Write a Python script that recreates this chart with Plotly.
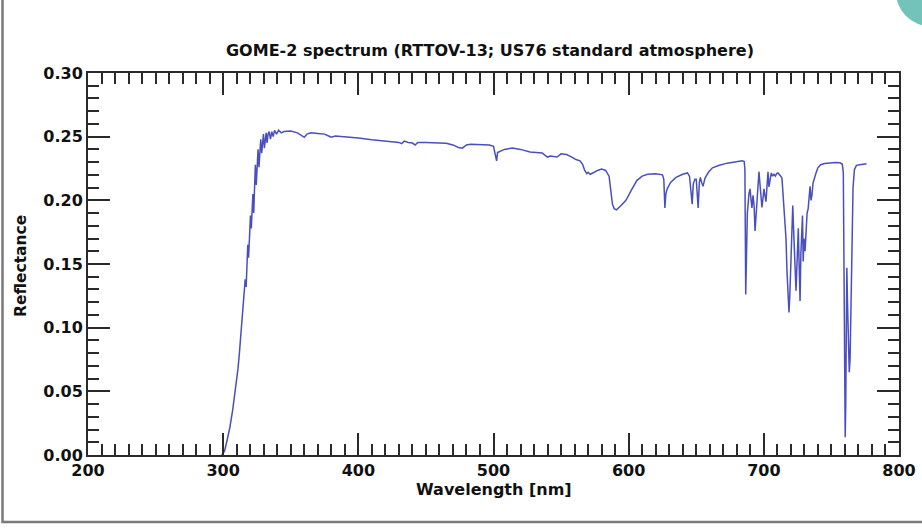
import plotly.graph_objects as go

# Wavelength [nm] and reflectance
wavelength = [
    299, 301, 303, 305, 307, 309, 310, 311, 312, 313, 314, 315, 315.7, 316.3, 317, 317.6,
    318.2, 318.8, 319.5, 320.2, 320.8, 321.4, 322.0, 322.6, 323.2, 323.8, 324.5, 325.2,
    325.8, 326.5, 327.2, 327.8, 328.5, 329.2, 329.8, 330.5, 331.2, 331.8, 332.5, 333.2,
    334, 335, 336, 337, 338, 339.5, 341, 343, 345,
    350, 355, 358, 360, 362, 365, 370, 375, 378, 380, 383, 390, 400, 410, 416, 425, 430,
    432, 434, 437, 440, 442, 444, 450, 458, 465, 470, 474, 477, 480, 483, 490, 497, 500,
    501.5, 502.3, 503, 505, 508, 514, 520, 527, 533, 536, 538, 540, 542, 545, 547, 550,
    554, 558, 561, 564, 566, 567.5, 569, 570, 571.5, 573.5, 577, 580, 583, 585.5, 587,
    588, 589.3, 591, 594, 598, 602, 606, 610, 614, 620, 625, 626, 626.8, 627.5, 628.5,
    631, 635, 640, 643.5, 645, 646.5, 647, 647.8, 649, 650, 650.8, 651.4, 652.3, 653,
    654, 655, 656.5, 659, 662, 667, 673, 679, 684, 685.5, 686, 686.6, 687.2, 687.8, 689,
    689.8, 690.5, 691.2, 692, 692.8, 693.5, 694.3, 695, 695.8, 696.4, 697.2, 697.9, 698.6,
    699.3, 700.1, 700.8, 701.6, 702.4, 703.1, 703.8, 704.6, 705.5, 706.5, 707.5, 708.5,
    709.5, 710.5, 711.5, 712.5, 713.4, 714.2, 715, 715.8, 716.4, 717.1, 717.8, 718.6,
    719.2, 719.8, 720.4, 720.9, 721.4, 722, 722.6, 723.2, 723.8, 724.4, 725, 725.5, 726.1,
    726.8, 727.4, 728, 728.6, 729.1, 729.7, 730.5, 731.2, 732, 732.8, 733.5, 734.2, 734.9,
    735.6, 736.4, 737.3, 738.6, 740, 742, 745, 749, 753, 756.3, 758, 758.8, 759.3, 759.8,
    760.2, 760.6, 761.0, 761.4, 761.9, 762.5, 763.2, 763.8, 764.5, 765.2, 766, 767, 768.5,
    771, 774, 776,
]
reflectance = [
    0.000, 0.003, 0.012, 0.022, 0.035, 0.050, 0.060, 0.068, 0.080, 0.092, 0.106, 0.118,
    0.128, 0.138, 0.132, 0.148, 0.165, 0.155, 0.172, 0.188, 0.178, 0.195, 0.205, 0.190,
    0.215, 0.228, 0.212, 0.232, 0.240, 0.226, 0.243, 0.248, 0.237, 0.249, 0.252, 0.241,
    0.251, 0.253, 0.245, 0.252, 0.254, 0.248, 0.254, 0.250, 0.255, 0.252, 0.255, 0.253,
    0.254,
    0.2545, 0.253, 0.251, 0.2495, 0.252, 0.253, 0.2525, 0.252, 0.2505, 0.2495, 0.2505,
    0.250, 0.249, 0.2475, 0.247, 0.2465, 0.2455, 0.2445, 0.2465, 0.2455, 0.245, 0.2435,
    0.2455, 0.2455, 0.245, 0.2448, 0.2435, 0.2415, 0.241, 0.2435, 0.244, 0.2438, 0.2435,
    0.2425, 0.236, 0.231, 0.2375, 0.2385, 0.240, 0.241, 0.240, 0.238, 0.2375, 0.2372,
    0.2355, 0.234, 0.2348, 0.2345, 0.234, 0.2365, 0.236, 0.234, 0.232, 0.231, 0.228,
    0.2235, 0.221, 0.222, 0.2205, 0.2215, 0.2235, 0.2245, 0.2235, 0.219, 0.208, 0.197,
    0.1935, 0.1925, 0.1955, 0.200, 0.208, 0.2155, 0.219, 0.2205, 0.2208, 0.220, 0.2165,
    0.194, 0.205, 0.209, 0.214, 0.218, 0.2205, 0.2215, 0.219, 0.200, 0.197, 0.213, 0.2165,
    0.2165, 0.197, 0.194, 0.214, 0.218, 0.214, 0.211, 0.2175, 0.222, 0.2255, 0.2275,
    0.2292, 0.2305, 0.231, 0.2305, 0.224, 0.126, 0.160, 0.190, 0.205, 0.209, 0.201, 0.194,
    0.204, 0.196, 0.176, 0.190, 0.201, 0.213, 0.2225, 0.212, 0.202, 0.1945, 0.201, 0.209,
    0.204, 0.199, 0.212, 0.2225, 0.2105, 0.217, 0.2215, 0.219, 0.2205, 0.219, 0.221,
    0.2215, 0.2205, 0.219, 0.2175, 0.2065, 0.195, 0.182, 0.170, 0.145, 0.125, 0.112,
    0.125, 0.145, 0.172, 0.187, 0.196, 0.178, 0.156, 0.140, 0.129, 0.146, 0.168, 0.178,
    0.150, 0.121, 0.158, 0.181, 0.188, 0.152, 0.170, 0.160, 0.182, 0.190, 0.1935, 0.206,
    0.211, 0.200, 0.204, 0.2135, 0.2175, 0.2215, 0.2255, 0.228, 0.229, 0.2295, 0.2298,
    0.2295, 0.2285, 0.222, 0.140, 0.050, 0.014, 0.040, 0.100, 0.147, 0.120, 0.085, 0.065,
    0.075, 0.120, 0.175, 0.210, 0.224, 0.2275, 0.228, 0.2285, 0.2288,
]

x_ticks = [200, 300, 400, 500, 600, 700, 800]
y_ticks = [0.00, 0.05, 0.10, 0.15, 0.20, 0.25, 0.30]

FONT = "DejaVu Sans"
AX = "#2a2a2a"

fig = go.Figure()
fig.add_trace(go.Scatter(
    x=wavelength, y=reflectance, mode="lines",
    line=dict(color="#4a4fbf", width=1.5),
    showlegend=False, hoverinfo="skip",
))

common = dict(
    showline=True, mirror="ticks", linecolor=AX, linewidth=2,
    ticks="inside", tickcolor=AX, tickwidth=1.6, ticklen=22,
    showgrid=False, zeroline=False, automargin=False,
    tickfont=dict(family=FONT, size=16, color="#111", weight="bold"),
)

fig.update_layout(
    width=922, height=528,
    margin=dict(l=88, r=23, t=73, b=73, autoexpand=False),
    paper_bgcolor="white", plot_bgcolor="white",
    title=dict(
        text="GOME-2 spectrum (RTTOV-13; US76 standard atmosphere)",
        font=dict(family=FONT, size=16, color="#111", weight="bold"),
        x=(490 - 88) / 811, xref="paper", xanchor="center",
        y=1 - 50 / 528, yref="container", yanchor="middle",
    ),
    xaxis=dict(
        range=[200, 800], tickvals=x_ticks, ticktext=[str(v) for v in x_ticks],
        ticklabelstandoff=0,
        minor=dict(dtick=10, ticklen=11, tickcolor=AX, tickwidth=1.6, ticks="inside"),
        **common,
    ),
    yaxis=dict(
        range=[0, 0.30], tickvals=y_ticks, ticktext=[f"{v:.2f}" for v in y_ticks],
        minor=dict(dtick=0.01, ticklen=11, tickcolor=AX, tickwidth=1.6, ticks="inside"),
        **common,
    ),
    annotations=[
        dict(text="Wavelength [nm]", xref="paper", yref="paper",
             x=(494 - 88) / 811, y=(455 - 489) / 382, xanchor="center", yanchor="middle",
             showarrow=False, font=dict(family=FONT, size=16, color="#111", weight="bold")),
        dict(text="Reflectance", xref="paper", yref="paper",
             x=(21 - 88) / 811, y=(455 - 266) / 382, xanchor="center", yanchor="middle",
             textangle=-90, showarrow=False,
             font=dict(family=FONT, size=15.5, color="#111", weight="bold")),
    ],
    shapes=[
        dict(type="rect", xref="paper", yref="paper",
             x0=(2.5 - 88) / 811, x1=(930 - 88) / 811,
             y0=(455 - 522) / 382, y1=(455 + 10) / 382,
             line=dict(color="#7a7a7a", width=2.5), fillcolor="rgba(0,0,0,0)", layer="below"),
        dict(type="circle", xref="paper", yref="paper",
             x0=(896 - 88) / 811, x1=(964 - 88) / 811,
             y0=(455 - 26) / 382, y1=(455 + 42) / 382,
             line=dict(width=0), fillcolor="#74c3bb", layer="above"),
    ],
)

fig.write_html("out.html")
